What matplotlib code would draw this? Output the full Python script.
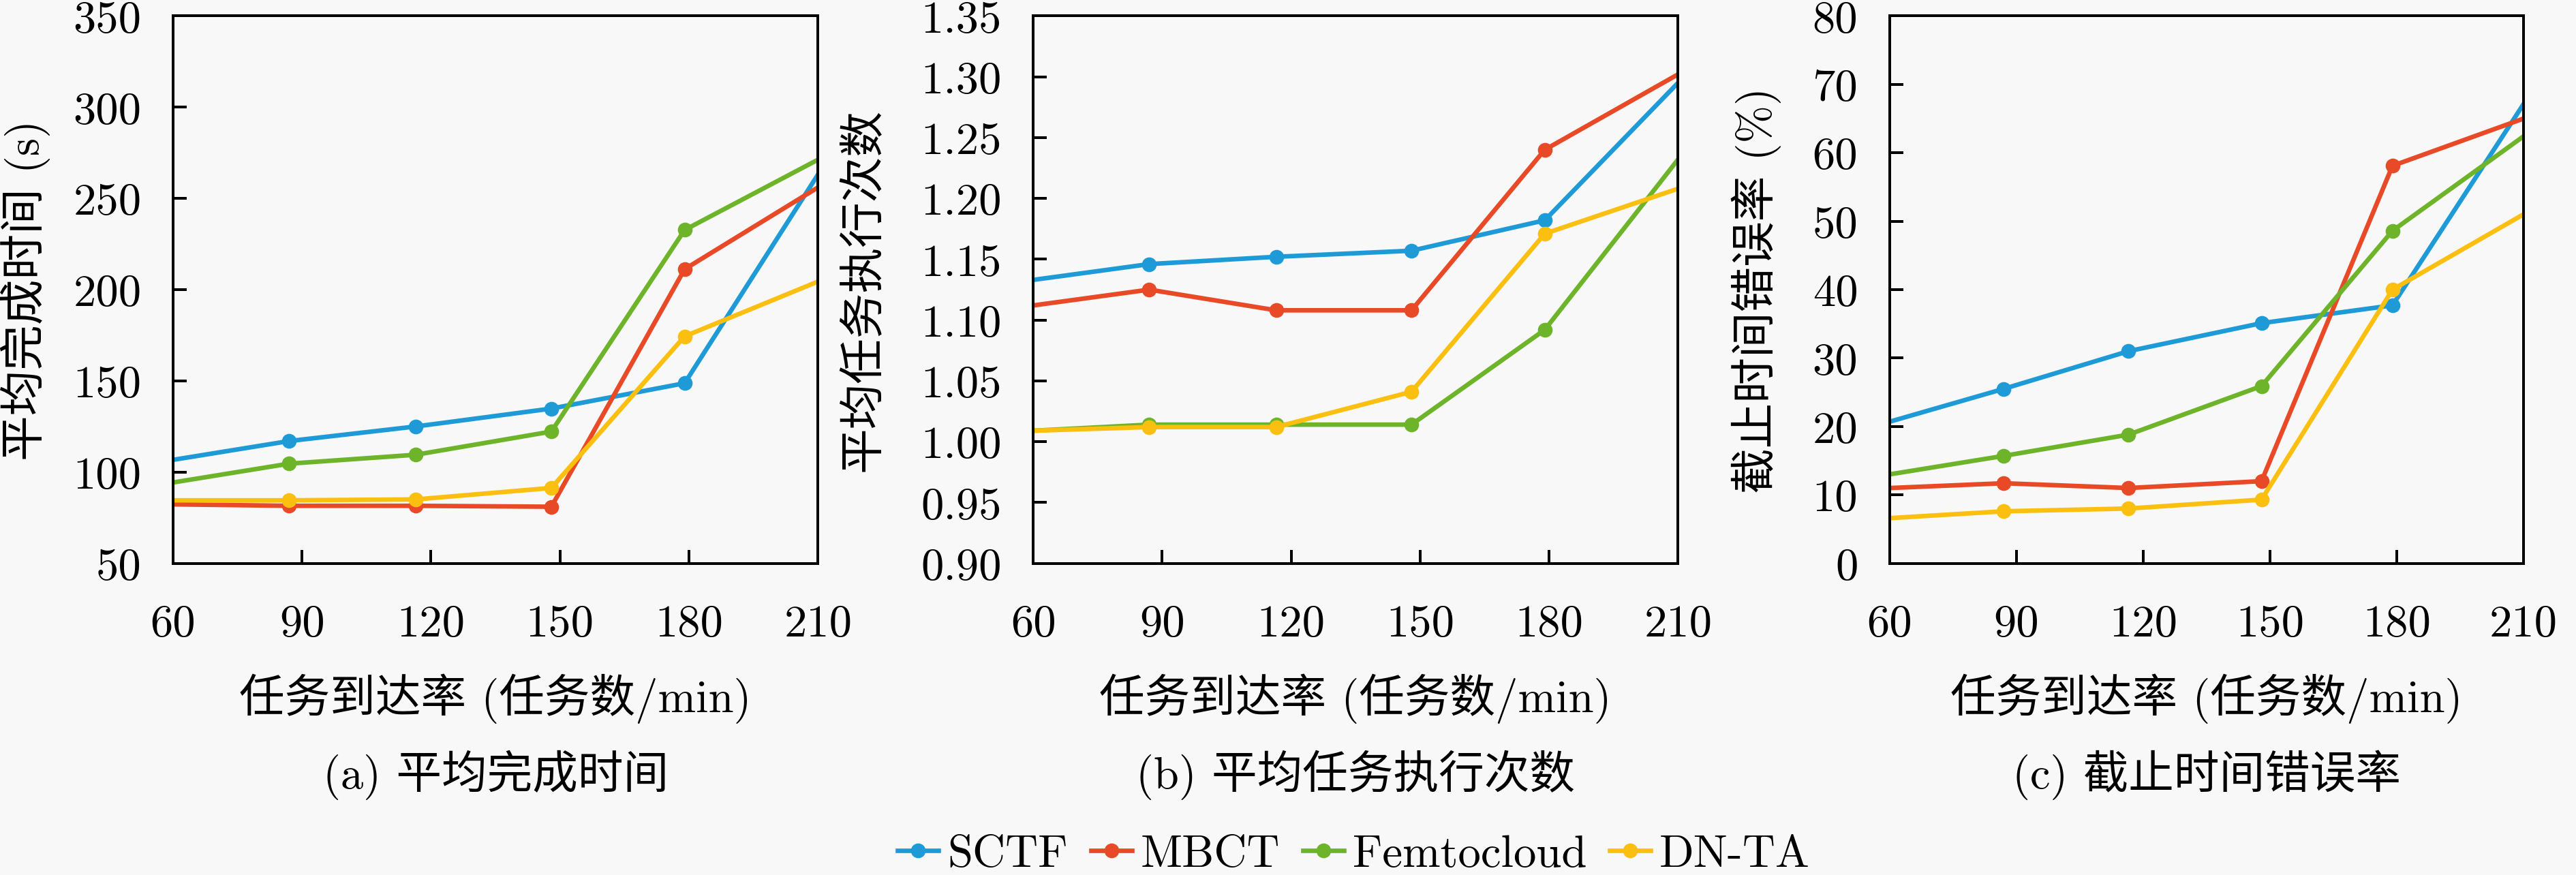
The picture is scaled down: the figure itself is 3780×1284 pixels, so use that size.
import matplotlib
matplotlib.use("Agg")
import matplotlib.pyplot as plt

# Data
x_pos = [60, 87, 116.5, 148, 179, 210]
x_ticks = [60, 90, 120, 150, 180, 210]
methods = ["SCTF", "MBCT", "Femtocloud", "DN-TA"]
colors = ["#1e9bd7", "#e84a27", "#6eb42a", "#fbbf10"]

# (a) average completion time (s)
time_sctf = [106.7, 117.0, 125.0, 134.8, 148.7, 263.0]
time_mbct = [82.3, 81.5, 81.5, 81.0, 211.2, 256.0]
time_femto = [94.3, 104.6, 109.5, 122.2, 232.7, 271.2]
time_dnta = [84.5, 84.5, 85.0, 91.3, 174.4, 204.4]

# (b) average task execution count
exec_sctf = [1.133, 1.146, 1.152, 1.157, 1.182, 1.295]
exec_mbct = [1.112, 1.125, 1.108, 1.108, 1.240, 1.302]
exec_femto = [1.009, 1.014, 1.014, 1.014, 1.092, 1.232]
exec_dnta = [1.009, 1.012, 1.012, 1.041, 1.171, 1.208]

# (c) deadline miss rate (%)
miss_sctf = [20.7, 25.5, 31.0, 35.1, 37.7, 67.1]
miss_mbct = [11.0, 11.7, 11.0, 12.0, 58.1, 65.0]
miss_femto = [13.0, 15.7, 18.8, 25.9, 48.6, 62.4]
miss_dnta = [6.6, 7.6, 8.0, 9.3, 40.0, 51.0]

panels = [
    dict(series=[time_sctf, time_mbct, time_femto, time_dnta],
         ylim=(50, 350), yticks=[50, 100, 150, 200, 250, 300, 350], fmt="{:.0f}",
         ylabel="平均完成时间 (s)", caption="(a) 平均完成时间",
         rect=[0.0672, 0.356, 0.2503, 0.625], ylab_x=-0.19),
    dict(series=[exec_sctf, exec_mbct, exec_femto, exec_dnta],
         ylim=(0.90, 1.35), yticks=[0.90, 0.95, 1.00, 1.05, 1.10, 1.15, 1.20, 1.25, 1.30, 1.35],
         fmt="{:.2f}",
         ylabel="平均任务执行次数", caption="(b) 平均任务执行次数",
         rect=[0.4011, 0.356, 0.2503, 0.625], ylab_x=-0.23),
    dict(series=[miss_sctf, miss_mbct, miss_femto, miss_dnta],
         ylim=(0, 80), yticks=[0, 10, 20, 30, 40, 50, 60, 70, 80], fmt="{:.0f}",
         ylabel="截止时间错误率 (%)", caption="(c) 截止时间错误率",
         rect=[0.7336, 0.356, 0.2460, 0.625], ylab_x=-0.171),
]

plt.rcParams['font.family'] = ['cmr10', 'Noto Sans CJK SC']
plt.rcParams['font.size'] = 20
plt.rcParams['axes.unicode_minus'] = False

fig = plt.figure(figsize=(15.75, 5.354), dpi=240, facecolor="#f8f8f8")

handles = []
for p in panels:
    ax = fig.add_axes(p["rect"])
    ax.set_facecolor("#f8f8f8")
    for vals, name, c in zip(p["series"], methods, colors):
        h, = ax.plot(x_pos, vals, color=c, lw=2.0, marker="o", ms=5.5,
                     markevery=slice(1, 5), label=name)
        if len(handles) < len(methods):
            handles.append(h)
    ax.set_xlim(60, 210)
    ax.set_ylim(*p["ylim"])
    ax.set_xticks(x_ticks)
    ax.set_yticks(p["yticks"])
    ax.set_yticklabels([p["fmt"].format(v) for v in p["yticks"]])
    ax.tick_params(direction="in", length=6, width=1.2, top=False, right=False)
    ax.tick_params(axis="x", pad=18)
    ax.tick_params(axis="y", pad=14)
    for s in ax.spines.values():
        s.set_linewidth(1.2)
    ax.set_xlabel("任务到达率 (任务数/min)")
    ax.xaxis.set_label_coords(0.5, -0.20)
    ax.set_ylabel(p["ylabel"])
    ax.yaxis.set_label_coords(p["ylab_x"], 0.5)
    ax.text(0.5, -0.386, p["caption"], transform=ax.transAxes,
            ha="center", va="center")

fig.legend(handles=handles, labels=methods, loc="center", ncol=4,
           bbox_to_anchor=(0.5256, 0.0233), frameon=False,
           handlelength=0.9, handletextpad=0.2, columnspacing=0.5,
           borderpad=0.0)

fig.savefig("out.png", dpi=240, facecolor=fig.get_facecolor())
